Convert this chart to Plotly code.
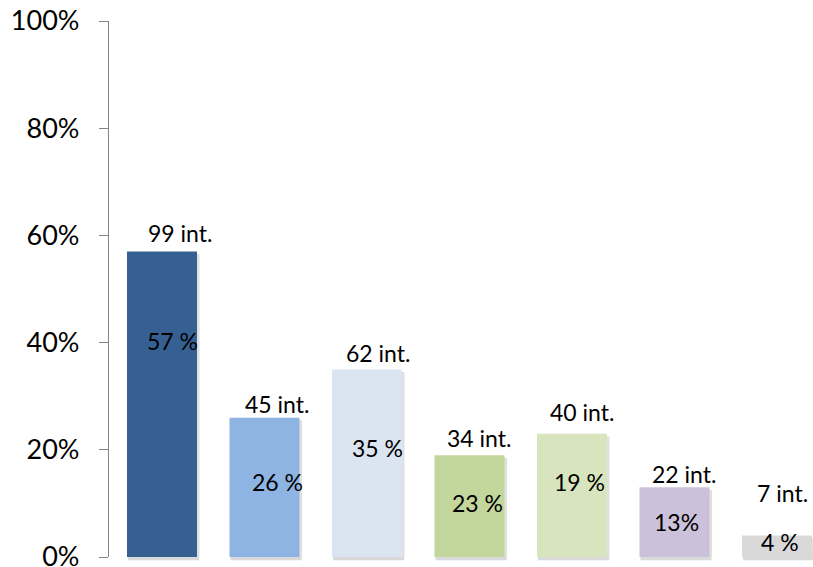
import plotly.graph_objects as go

# Share of interviews per group (bar heights, %)
categories = ["G1", "G2", "G3", "G4", "G5", "G6", "G7"]
share_pct = [57, 26, 35, 19, 23, 13, 4]
interviews = [99, 45, 62, 34, 40, 22, 7]
pct_labels = ["57 %", "26 %", "35 %", "23 %", "19 %", "13%", "4 %"]
tick_vals = [0, 20, 40, 60, 80, 100]
tick_text = ["0%", "20%", "40%", "60%", "80%", "100%"]

bar_colors = ["#376092", "#8EB4E3", "#DBE5F1", "#C3D69B",
              "#D7E4BD", "#CCC1DA", "#D9D9D9"]

FONT = "Lato, 'Open Sans', sans-serif"
AXIS_GREY = "#868686"
BAR_W = 0.683

# label placement tweaks (pixels): count labels above bars, share labels inside
count_dx = [18, 12, 11, 9, 10, 9, 5]
count_dy = [18, 14, 16, 17, 22, 13, 43]
share_dx = [11, 13, 10, 8, 7, 2, 3]
share_dy = [-90, -64, -79, -48, -48, -35, -6]

x = list(range(len(categories)))

fig = go.Figure()

# soft drop shadow behind each bar
fig.add_trace(go.Bar(
    x=x, y=[v - 0.5 for v in share_pct],
    width=BAR_W, offset=-BAR_W / 2 + 0.025,
    marker=dict(color="rgba(0,0,0,0.12)", line=dict(width=0)),
    hoverinfo="skip", showlegend=False,
))

fig.add_trace(go.Bar(
    x=x, y=share_pct,
    width=BAR_W, offset=-BAR_W / 2,
    marker=dict(color=bar_colors, line=dict(width=0)),
    showlegend=False,
))

# thin shadow line under each bar
for i in x:
    fig.add_shape(type="rect", xref="x", yref="paper",
                  x0=i - BAR_W / 2 + 0.01, x1=i + BAR_W / 2 + 0.02,
                  y0=-0.006, y1=0, line=dict(width=0),
                  fillcolor="rgba(0,0,0,0.15)", layer="below")

for i, (v, n, p) in enumerate(zip(share_pct, interviews, pct_labels)):
    fig.add_annotation(x=i, y=v, text=f"{n} int.", showarrow=False,
                       xanchor="center", yanchor="middle",
                       xshift=count_dx[i], yshift=count_dy[i],
                       font=dict(family=FONT, size=23, color="#000000"))
    fig.add_annotation(x=i, y=v, text=p, showarrow=False,
                       xanchor="center", yanchor="middle",
                       xshift=share_dx[i], yshift=share_dy[i],
                       font=dict(family=FONT, size=23, color="#000000"))

fig.update_layout(
    width=813, height=567,
    margin=dict(l=109, r=0, t=21, b=10, autoexpand=False),
    paper_bgcolor="white", plot_bgcolor="white",
    barmode="overlay",
    font=dict(family=FONT, color="#000000"),
    xaxis=dict(range=[-0.517, 6.351], showticklabels=False, showgrid=False,
               zeroline=False, showline=False, ticks="", automargin=False),
    yaxis=dict(range=[0, 100], tickvals=tick_vals, ticktext=tick_text,
               showgrid=False, zeroline=False, showline=True,
               linecolor=AXIS_GREY, linewidth=1.3, ticks="outside",
               ticklen=9, tickcolor=AXIS_GREY, tickwidth=1.3,
               ticklabelstandoff=14, ticklabeloverflow="allow",
               automargin=False,
               tickfont=dict(family=FONT, size=27, color="#000000")),
)

fig.write_html("out.html")
